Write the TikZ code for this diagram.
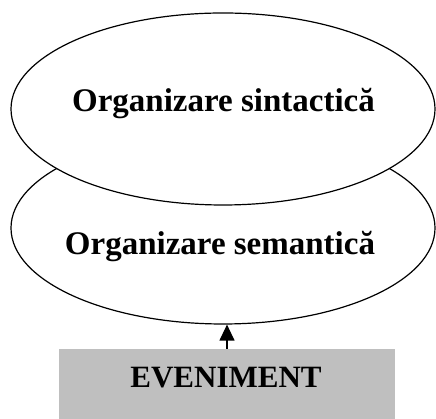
\documentclass[tikz,border=0pt]{standalone}
\usepackage{fontspec}
\setmainfont{Liberation Serif}
\usepackage{tikz}
\usetikzlibrary{shapes.geometric,arrows.meta}

\begin{document}
\begin{tikzpicture}[
		x=1pt, y=1pt,
		level/.style={ellipse, draw, line width=1.2pt, fill=white, minimum width=424pt, minimum height=192pt, inner sep=0pt},
		caption/.style={anchor=base, inner sep=0pt, font=\bfseries\fontsize{33}{36}\selectfont},
		eventbox/.style={rectangle, fill=black!25, minimum width=336pt, minimum height=70pt, inner sep=0pt}
	]
  \useasboundingbox (0,0) rectangle (436,419);
  \node (sem) [level] at (223, 191) {};
  \node (sin) [level] at (223, 310) {};
  \node (sinT) [caption] at (223.5, 307) {Organizare sintactică};
  \node (semT) [caption] at (220, 164) {Organizare semantică};
  \node (ev) [eventbox] at (227, 35) {};
  \node (evT) [caption, font=\bfseries\fontsize{31}{34}\selectfont] at (226, 31) {EVENIMENT};
  \draw [line width=1.2pt, -{Triangle[length=16pt, width=15pt]}] (ev.north) -- (ev.north |- sem.south);
\end{tikzpicture}
\end{document}
